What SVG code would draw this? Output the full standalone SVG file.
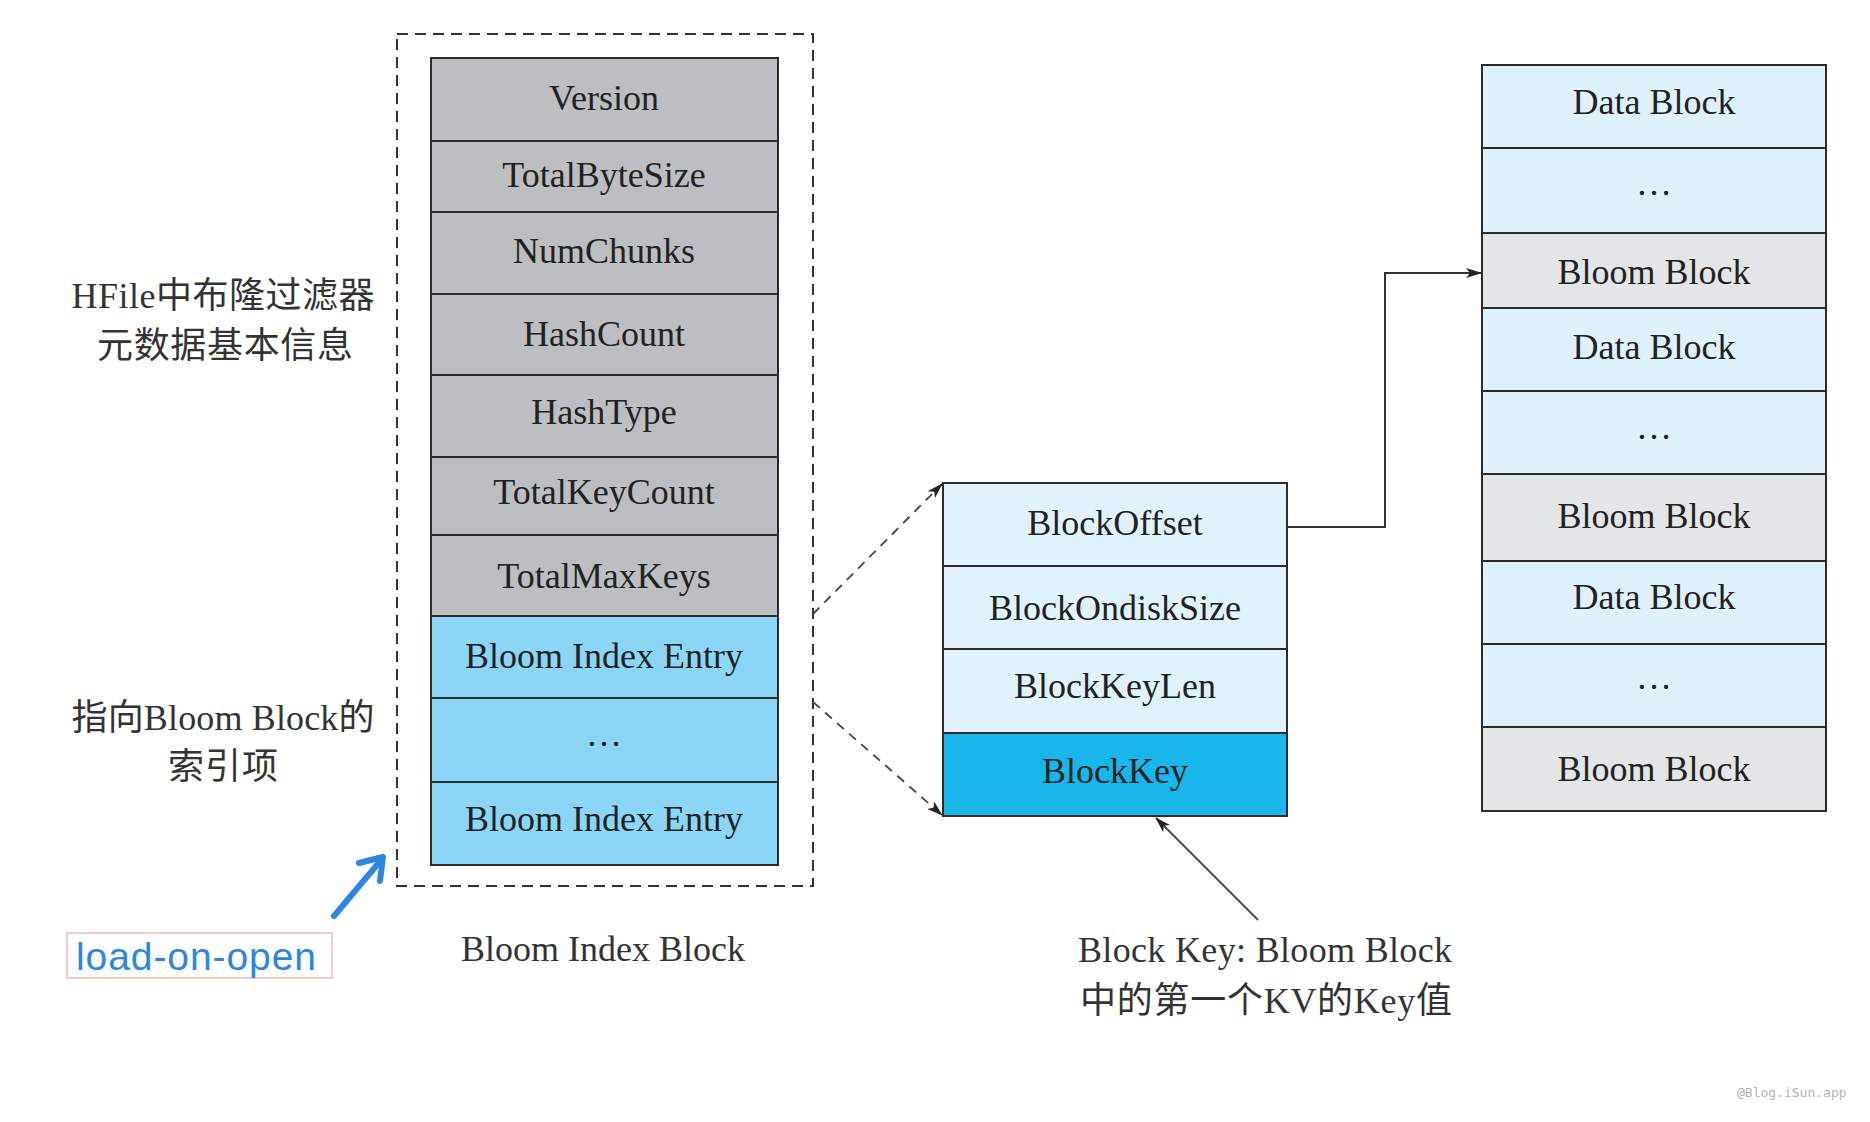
<svg xmlns="http://www.w3.org/2000/svg" width="1870" height="1122" viewBox="0 0 1870 1122">
<style>
.cell{stroke:#2b2b2b;stroke-width:2}
.g1{fill:#bcbec1}
.b1{fill:#8bd6f7}
.m1{fill:#e0f3fc}
.bk{fill:#19b6e9}
.rg{fill:#e4e5e7}
.rb{fill:#dff2fc}
.t{font-family:"Liberation Serif","Noto Sans CJK SC",serif;font-size:36px;fill:#222;text-anchor:middle}
.cap{font-family:"Liberation Serif","Noto Sans CJK SC",serif;font-size:36px;fill:#333;text-anchor:middle}
.conn{fill:none;stroke:#333;stroke-width:2}
.dash{fill:none;stroke:#444;stroke-width:1.8;stroke-dasharray:9 7}
</style>
<defs>
<marker id="ah" markerWidth="16" markerHeight="10" refX="15" refY="5" orient="auto" markerUnits="userSpaceOnUse">
<path d="M0,0 L16,5 L0,10 L4,5 z" fill="#222"/>
</marker>
</defs>
<rect width="1870" height="1122" fill="#ffffff"/>

<g id="bloom-index-block">
<rect x="397" y="34" width="416" height="852" fill="none" stroke="#333" stroke-width="2" stroke-dasharray="11 7"/>
<g id="version"><rect class="cell g1" x="431" y="58" width="347" height="83"/><text class="t" x="604" y="110">Version</text></g>
<g id="totalbytesize"><rect class="cell g1" x="431" y="141" width="347" height="71"/><text class="t" x="604" y="187">TotalByteSize</text></g>
<g id="numchunks"><rect class="cell g1" x="431" y="212" width="347" height="82"/><text class="t" x="604" y="263">NumChunks</text></g>
<g id="hashcount"><rect class="cell g1" x="431" y="294" width="347" height="81"/><text class="t" x="604" y="346">HashCount</text></g>
<g id="hashtype"><rect class="cell g1" x="431" y="375" width="347" height="82"/><text class="t" x="604" y="424">HashType</text></g>
<g id="totalkeycount"><rect class="cell g1" x="431" y="457" width="347" height="78"/><text class="t" x="604" y="504">TotalKeyCount</text></g>
<g id="totalmaxkeys"><rect class="cell g1" x="431" y="535" width="347" height="81"/><text class="t" x="604" y="588">TotalMaxKeys</text></g>
<g id="entry1"><rect class="cell b1" x="431" y="616" width="347" height="82"/><text class="t" x="604" y="668">Bloom Index Entry</text></g>
<g id="entry-dots"><rect class="cell b1" x="431" y="698" width="347" height="84"/><text class="t" x="604" y="746">…</text></g>
<g id="entry2"><rect class="cell b1" x="431" y="782" width="347" height="83"/><text class="t" x="604" y="831">Bloom Index Entry</text></g>
</g>
<g id="label-bloom-index-block"><text class="cap" x="603" y="961">Bloom Index Block</text></g>

<g id="label-meta">
<text class="cap" x="223" y="308" textLength="303" lengthAdjust="spacing">HFile中布隆过滤器</text>
<text class="cap" x="225" y="358" textLength="256" lengthAdjust="spacing">元数据基本信息</text>
</g>
<g id="label-index">
<text class="cap" x="223" y="730" textLength="303" lengthAdjust="spacing">指向Bloom Block的</text>
<text class="cap" x="223" y="779" textLength="110" lengthAdjust="spacing">索引项</text>
</g>

<g id="load-on-open">
<rect x="67" y="933" width="265" height="45" fill="#ffffff" stroke="#f3b9bd" stroke-width="1.5"/>
<text x="76" y="970" font-family="'Liberation Sans','Noto Sans',sans-serif" font-size="39" fill="#2c86e0" textLength="240" lengthAdjust="spacing">load-on-open</text>
</g>

<g id="index-entry">
<g id="blockoffset"><rect class="cell m1" x="943" y="483" width="344" height="83"/><text class="t" x="1115" y="535">BlockOffset</text></g>
<g id="blockondisksize"><rect class="cell m1" x="943" y="566" width="344" height="83"/><text class="t" x="1115" y="620">BlockOndiskSize</text></g>
<g id="blockkeylen"><rect class="cell m1" x="943" y="649" width="344" height="84"/><text class="t" x="1115" y="698">BlockKeyLen</text></g>
<g id="blockkey"><rect class="cell bk" x="943" y="733" width="344" height="83"/><text class="t" x="1115" y="783">BlockKey</text></g>
</g>

<g id="label-blockkey">
<text class="cap" x="1265" y="962" textLength="374" lengthAdjust="spacing">Block Key: Bloom Block</text>
<text class="cap" x="1266" y="1013" textLength="372" lengthAdjust="spacing">中的第一个KV的Key值</text>
</g>

<g id="hfile-blocks">
<g id="data1"><rect class="cell rb" x="1482" y="65" width="344" height="83"/><text class="t" x="1654" y="114">Data Block</text></g>
<g id="dots1"><rect class="cell rb" x="1482" y="148" width="344" height="85"/><text class="t" x="1654" y="195">…</text></g>
<g id="bloom1"><rect class="cell rg" x="1482" y="233" width="344" height="75"/><text class="t" x="1654" y="284">Bloom Block</text></g>
<g id="data2"><rect class="cell rb" x="1482" y="308" width="344" height="83"/><text class="t" x="1654" y="359">Data Block</text></g>
<g id="dots2"><rect class="cell rb" x="1482" y="391" width="344" height="83"/><text class="t" x="1654" y="439">…</text></g>
<g id="bloom2"><rect class="cell rg" x="1482" y="474" width="344" height="87"/><text class="t" x="1654" y="528">Bloom Block</text></g>
<g id="data3"><rect class="cell rb" x="1482" y="561" width="344" height="83"/><text class="t" x="1654" y="609">Data Block</text></g>
<g id="dots3"><rect class="cell rb" x="1482" y="644" width="344" height="83"/><text class="t" x="1654" y="689">…</text></g>
<g id="bloom3"><rect class="cell rg" x="1482" y="727" width="344" height="84"/><text class="t" x="1654" y="781">Bloom Block</text></g>
</g>

<g id="connectors">
<path class="dash" d="M813,614 L942,484" marker-end="url(#ah)"/>
<path class="dash" d="M813,702 L942,815" marker-end="url(#ah)"/>
<path class="conn" d="M1287,527 H1385 V273 H1481" marker-end="url(#ah)"/>
<path fill="none" stroke="#444" stroke-width="1.8" d="M1258,920 L1156,818" marker-end="url(#ah)"/>
<g fill="none" stroke="#2e86e0" stroke-width="6" stroke-linecap="round" stroke-linejoin="round">
<path d="M334,916 L382,859"/>
<path d="M359,863 L383,857 L380,881"/>
</g>
</g>

<text x="1737" y="1097" font-family="'DejaVu Sans Mono',monospace" font-size="13" fill="#b3b3b3">@Blog.iSun.app</text>
</svg>
